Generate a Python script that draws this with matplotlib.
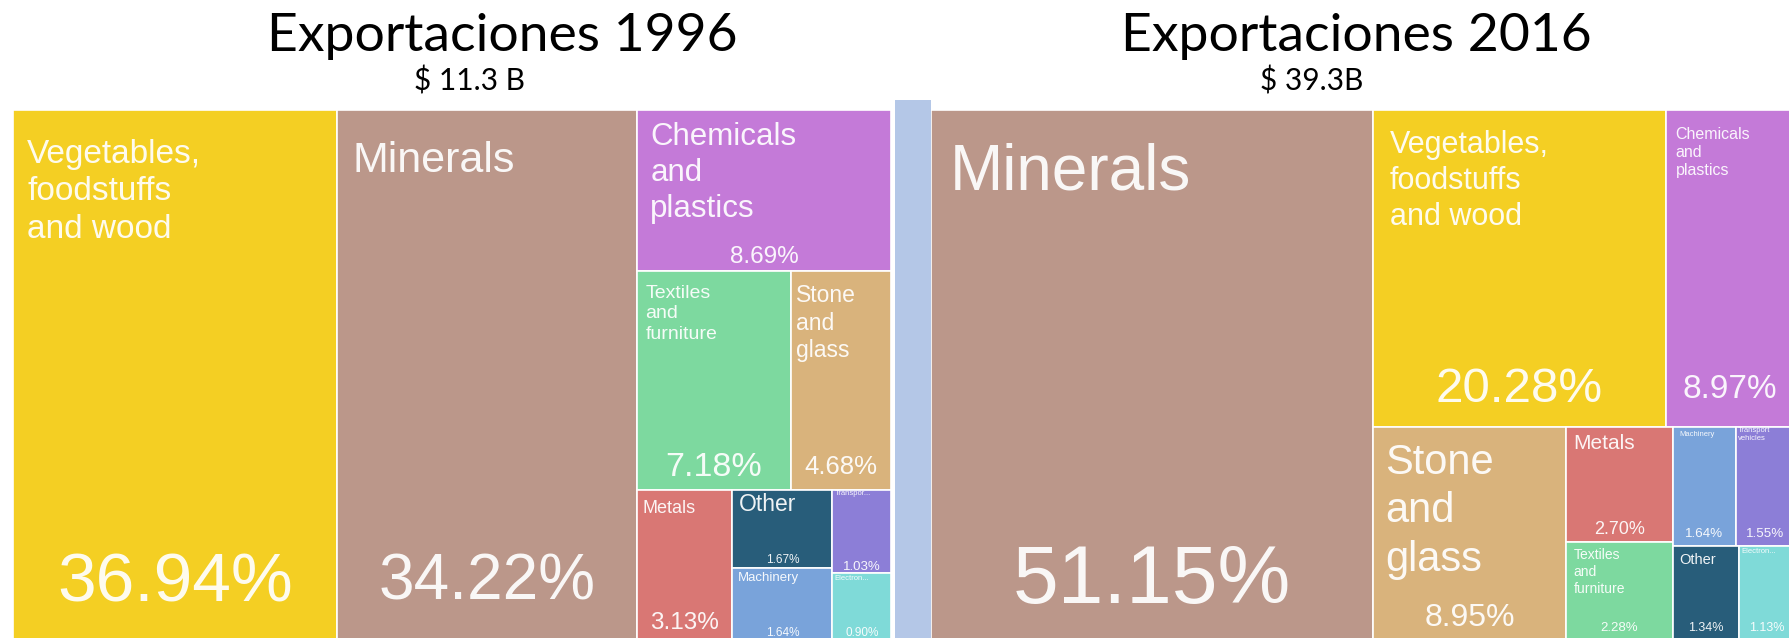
import matplotlib.pyplot as plt
from matplotlib.patches import Rectangle

# export shares (%)
categories = ["Vegetables", "Minerals", "Chemicals", "Textiles", "Stone",
              "Metals", "Other", "Machinery", "Transport", "Electronics"]
shares_1996 = [36.94, 34.22, 8.69, 7.18, 4.68, 3.13, 1.67, 1.64, 1.03, 0.90]
shares_2016 = [20.28, 51.15, 8.97, 2.28, 8.95, 2.70, 1.34, 1.64, 1.55, 1.13]
titles = ["Exportaciones 1996", "Exportaciones 2016"]
totals = ["$ 11.3 B", "$ 39.3B"]

colors = {
    "Vegetables": "#f4cf23", "Minerals": "#bb978a", "Chemicals": "#c47ad8",
    "Textiles": "#7dd99f", "Stone": "#d9b37c", "Metals": "#d97774",
    "Other": "#285d7a", "Machinery": "#79a3da", "Transport": "#8c7ed7",
    "Electronics": "#7fdad8",
}

# nesting of the slice-and-dice layout (root splits left-to-right)
tree_1996 = ["Vegetables", "Minerals",
             ["Chemicals", ["Textiles", "Stone"],
              ["Metals", ["Other", "Machinery"], ["Transport", "Electronics"]]]]
tree_2016 = ["Minerals",
             [["Vegetables", "Chemicals"],
              ["Stone", ["Metals", "Textiles"],
               [["Machinery", "Transport"], ["Other", "Electronics"]]]]]

# label text, label size (pt), label offset (px right, px down), pct size, pct offset (px above bottom)
style_1996 = {
    "Vegetables": ("Vegetables,\nfoodstuffs\nand wood", 24, (14, 29), 50, 61),
    "Minerals": ("Minerals", 31, (15, 31), 46, 62),
    "Chemicals": ("Chemicals\nand\nplastics", 22.5, (13, 12), 17.5, 14),
    "Textiles": ("Textiles\nand\nfurniture", 14, (8, 14), 24.5, 23),
    "Stone": ("Stone\nand\nglass", 16.5, (5, 13), 18.5, 23),
    "Metals": ("Metals", 13, (5, 10), 17.5, 22),
    "Other": ("Other", 16.5, (7, 3), 8.5, 8),
    "Machinery": ("Machinery", 9.5, (6, 4), 8.5, 12),
    "Transport": ("Transpor...", 5.5, (2, 0), 9.5, 6),
    "Electronics": ("Electron...", 5.5, (2, 2), 8.5, 12),
}
style_2016 = {
    "Minerals": ("Minerals", 46, (19, 33), 59, 57),
    "Vegetables": ("Vegetables,\nfoodstuffs\nand wood", 22, (17, 20), 35.5, 37),
    "Chemicals": ("Chemicals\nand\nplastics", 11.5, (10, 17), 24, 37),
    "Stone": ("Stone\nand\nglass", 30, (12, 16), 23, 21),
    "Metals": ("Metals", 15, (7, 7), 13, 12),
    "Textiles": ("Textiles\nand\nfurniture", 10, (8, 6), 9.5, 11),
    "Machinery": ("Machinery", 5.5, (6, 4), 9.6, 12),
    "Transport": ("Transport\nvehicles", 5.5, (2, 0), 9.6, 12),
    "Other": ("Other", 10.5, (6, 7), 9, 11),
    "Electronics": ("Electron...", 5.5, (2, 2), 9, 11),
}

W, H = 1789, 638


def value(node, shares):
    if isinstance(node, str):
        return shares[node]
    return sum(value(c, shares) for c in node)


def layout(node, x, y, w, h, horizontal, shares, out):
    if isinstance(node, str):
        out[node] = (x, y, w, h)
        return
    total = value(node, shares)
    pos = 0.0
    for child in node:
        frac = value(child, shares) / total
        if horizontal:
            layout(child, x + pos * w, y, frac * w, h, False, shares, out)
        else:
            layout(child, x, y + pos * h, w, frac * h, True, shares, out)
        pos += frac


def px_axes(fig, left, top, width, height):
    return fig.add_axes([left / W, (H - top - height) / H, width / W, height / H])


def draw_treemap(ax, tree, values, style):
    shares = dict(zip(categories, values))
    rects = {}
    layout(tree, 0, 0, 1, 1, True, shares, rects)
    ax.set_xlim(0, 1)
    ax.set_ylim(1, 0)
    ax.axis("off")
    k = 72 / 100  # px -> pt
    for name, (x, y, w, h) in rects.items():
        ax.add_patch(Rectangle((x, y), w, h, facecolor=colors[name],
                               edgecolor="white", lw=1.2))
        label, lsize, (dx, dy), psize, py = style[name]
        ax.annotate(label, (x, y), xytext=(dx * k, -dy * k), textcoords="offset points",
                    ha="left", va="top", fontsize=lsize, color="white", alpha=0.93,
                    family="Liberation Sans", linespacing=1.27, annotation_clip=False)
        ax.annotate(f"{shares[name]:.2f}%", (x + w / 2, y + h), xytext=(0, py * k),
                    textcoords="offset points", ha="center", va="center",
                    fontsize=psize, color="white", alpha=0.93,
                    family="Liberation Sans", annotation_clip=False)


fig = plt.figure(figsize=(W / 100, H / 100), dpi=100)

ax1 = px_axes(fig, 13, 110, 878, 535)
draw_treemap(ax1, tree_1996, shares_1996, style_1996)
ax2 = px_axes(fig, 931, 110, 864, 529)
draw_treemap(ax2, tree_2016, shares_2016, style_2016)

# light blue divider between the two maps
fig.add_artist(Rectangle((895 / W, 0), 36 / W, 538 / H, transform=fig.transFigure,
                         facecolor="#b4c7e7", edgecolor="none"))

fig.text(502 / W, 1 - 37 / H, titles[0], ha="center", va="center",
         fontsize=38.5, family="Lato")
fig.text(1356 / W, 1 - 37 / H, titles[1], ha="center", va="center",
         fontsize=38.5, family="Lato")
fig.text(470 / W, 1 - 81 / H, totals[0], ha="center", va="center",
         fontsize=21.5, family="Lato")
fig.text(1312 / W, 1 - 81 / H, totals[1], ha="center", va="center",
         fontsize=21.5, family="Lato")

fig.savefig("out.png", dpi=100)
